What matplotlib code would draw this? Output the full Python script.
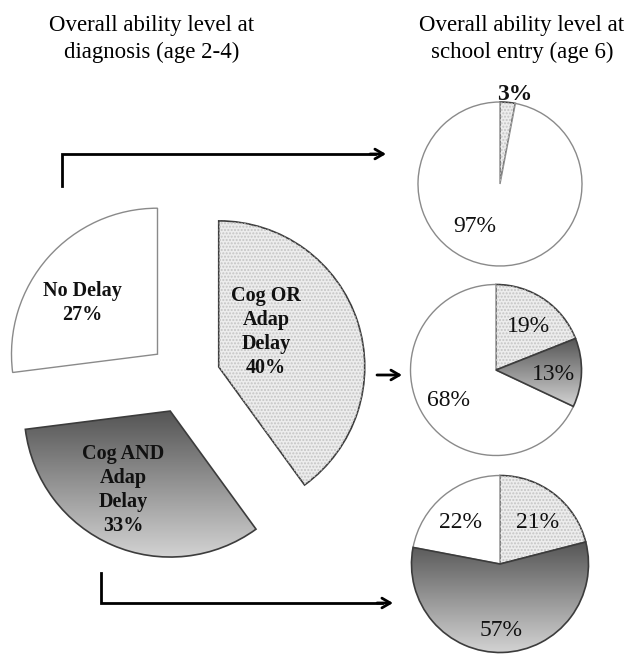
import matplotlib.pyplot as plt
import numpy as np
from matplotlib.patches import Wedge
from matplotlib.colors import LinearSegmentedColormap

H = 655  # figure height in px, used to flip image-style y positions

# data
groups = ['Cog OR Adap Delay', 'Cog AND Adap Delay', 'No Delay']
diag_pct = [40, 33, 27]
diag_text = ['Cog OR\nAdap\nDelay\n40%', 'Cog AND\nAdap\nDelay\n33%', 'No Delay\n27%']
# age 6 outcome, same group order (Cog OR, Cog AND, No Delay)
age6_from_nodelay = [3, 0, 97]
age6_from_or = [19, 13, 68]
age6_from_and = [21, 57, 22]

plt.rcParams['font.family'] = ['Liberation Serif', 'DejaVu Serif']

fig = plt.figure(figsize=(6.32, 6.55), dpi=100)
ax = fig.add_axes([0, 0, 1, 1])

gray_cmap = LinearSegmentedColormap.from_list('g', ['#555555', '#d2d2d2'])


def style_wedges(wedges, kinds):
    for w, k in zip(wedges, kinds):
        if k == 0:  # stipple
            w.set_facecolor('#ededed')
            w.set_edgecolor('#3c3c3c')
            w.set_linewidth(1.2)
            dots = Wedge(w.center, w.r, w.theta1, w.theta2, fill=False,
                         hatch='.....', edgecolor='#c4c4c4', linewidth=0, zorder=1.8)
            ax.add_patch(dots)
        elif k == 1:  # gradient
            w.set_facecolor('none')
            w.set_edgecolor('#3c3c3c')
            w.set_linewidth(1.2)
            w.set_zorder(2)
            ext = w.get_path().get_extents()
            grad = np.linspace(0, 1, 200)[:, None]
            im = ax.imshow(grad, cmap=gray_cmap, extent=(ext.x0, ext.x1, ext.y0, ext.y1),
                           origin='upper', aspect='auto', zorder=1.5)
            im.set_clip_path(w)
        else:  # white
            w.set_facecolor('white')
            w.set_edgecolor('#8a8a8a')
            w.set_linewidth(1.0)


# big exploded pie (explode is in data units here)
big, _ = ax.pie(diag_pct, startangle=90, counterclock=False, center=(184.5, H - 378),
                radius=146, explode=[36, 36, 36], frame=True)
style_wedges(big, [0, 1, 2])

label_pos = [(266, 332), (123, 490), (82, 303)]
for txt, (x, y) in zip(diag_text, label_pos):
    ax.text(x, H - y, txt, ha='center', va='center', fontsize=14.5,
            fontweight='bold', color='#111111', linespacing=1.25, zorder=5)

# small pies
small = [
    (age6_from_nodelay, (500, 184), 82, [(515, 94), None, (475, 227)]),
    (age6_from_or, (496, 370), 85.5, [(528, 327), (553, 375), (448, 401)]),
    (age6_from_and, (500, 564), 88.5, [(538, 523), (501, 631), (460, 523)]),
]
for n, (vals, (cx, cy), r, lpos) in enumerate(small):
    keep = [i for i, v in enumerate(vals) if v > 0]
    ws, _ = ax.pie([vals[i] for i in keep], startangle=90, counterclock=False,
                   center=(cx, H - cy), radius=r, frame=True)
    style_wedges(ws, keep)
    for i in keep:
        x, y = lpos[i]
        wt = 'bold' if (n == 0 and i == 0) else 'normal'
        ax.text(x, H - y, f'{vals[i]}%', ha='center', va='center', fontsize=17,
                color='#111111', fontweight=wt, zorder=5)

# titles
ax.text(152, H - 39, 'Overall ability level at\ndiagnosis (age 2-4)', ha='center',
        va='center', fontsize=16.5, linespacing=1.32)
ax.text(522, H - 39, 'Overall ability level at\nschool entry (age 6)', ha='center',
        va='center', fontsize=16.5, linespacing=1.32)

# arrows
arr = dict(arrowstyle='->,head_length=0.6,head_width=0.35', lw=2, color='black',
           shrinkA=0, shrinkB=0)
ax.plot([62, 62, 375], [H - 186, H - 154, H - 154], color='black', lw=2,
        solid_joinstyle='miter')
ax.annotate('', xy=(386, H - 154), xytext=(370, H - 154), arrowprops=arr)
ax.annotate('', xy=(402, H - 375), xytext=(377, H - 375), arrowprops=arr)
ax.plot([101, 101, 382], [H - 573, H - 603, H - 603], color='black', lw=2,
        solid_joinstyle='miter')
ax.annotate('', xy=(393, H - 603), xytext=(377, H - 603), arrowprops=arr)

ax.set_xlim(0, 632)
ax.set_ylim(0, H)
ax.set_aspect('auto')
ax.axis('off')

plt.savefig('out.png', dpi=100)
